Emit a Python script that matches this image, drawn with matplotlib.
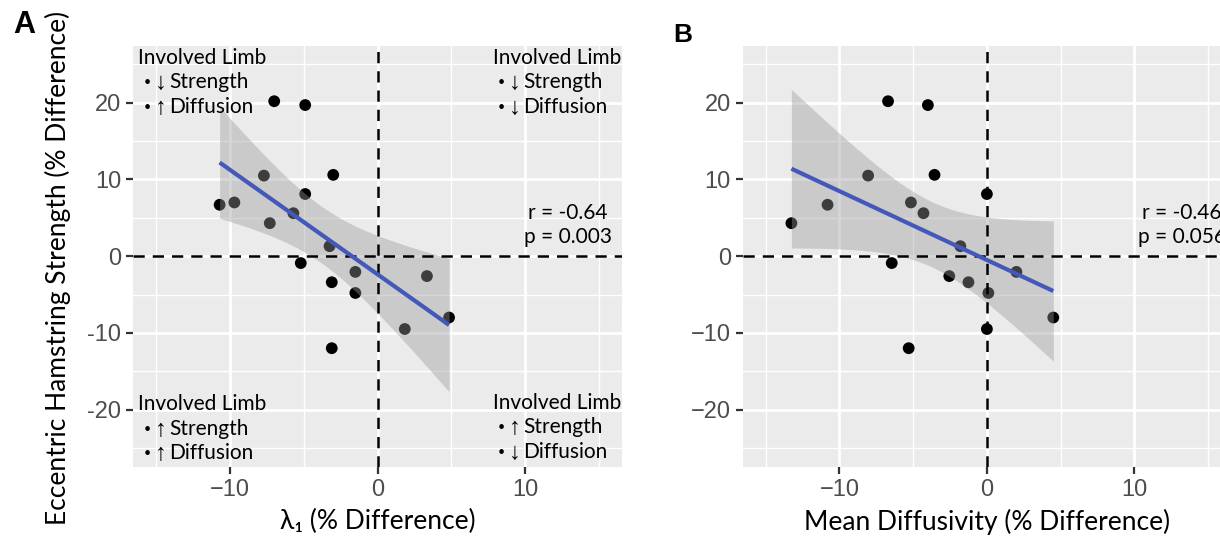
import numpy as np
import matplotlib
matplotlib.use('Agg')
import matplotlib.pyplot as plt

# ---- data ----
strength = [20.2, 19.7, 10.5, 10.6, 6.7, 7.0, 8.1, 5.6, 4.3, 1.3, -0.9, -2.05,
            -2.6, -3.4, -4.8, -9.5, -8.0, -12.0]
lambda1 = [-7.0, -4.9, -7.7, -3.0, -10.7, -9.7, -4.9, -5.7, -7.3, -3.25, -5.2, -1.5,
           3.35, -3.1, -1.5, 1.85, 4.85, -3.1]
md = [-6.7, -4.0, -8.05, -3.55, -10.8, -5.15, 0.0, -4.3, -13.25, -1.8, -6.45, 2.0,
      -2.55, -1.25, 0.1, 0.0, 4.5, -5.3]

xticks = [-10, 0, 10]
xticklabels = ['\u221210', '0', '10']
yticks = [20, 10, 0, -10, -20]
yticklabels_a = ['20', '10', '0', '-10', '-20']
yticklabels_b = ['20', '10', '0', '\u221210', '\u221220']
stats_a = 'r = -0.64\np = 0.003'
stats_b = 'r = -0.46\np = 0.056'
ylabel = 'Eccentric Hamstring Strength (% Difference)'
xlabel_a = '\u03bb\u2081 (% Difference)'
xlabel_b = 'Mean Diffusivity (% Difference)'
quad_header = 'Involved Limb'
quad_words = ['Strength', 'Diffusion']

TXT = ['Lato', 'DejaVu Sans']
TICK = ['Liberation Sans', 'DejaVu Sans']

fig = plt.figure(figsize=(12.2, 5.44), dpi=100)
fig.patch.set_facecolor('white')

ax_a = fig.add_axes([133.3 / 1220, 1 - 466.7 / 544, 488.4 / 1220, 420.7 / 544])
ax_b = fig.add_axes([742.7 / 1220, 1 - 466.7 / 544, 488.4 / 1220, 420.7 / 544])


def style(ax, ylabels):
    ax.set_facecolor('#EBEBEB')
    for s in ax.spines.values():
        s.set_visible(False)
    ax.set_xlim(-16.55, 16.55)
    ax.set_ylim(-27.45, 27.4)
    ax.set_xticks(xticks)
    ax.set_xticklabels(xticklabels)
    ax.set_xticks([-15, -5, 5, 15], minor=True)
    ax.set_yticks(yticks)
    ax.set_yticklabels(ylabels)
    ax.set_yticks([-25, -15, -5, 5, 15, 25], minor=True)
    ax.grid(which='major', color='white', lw=2.0, zorder=0)
    ax.grid(which='minor', color='white', lw=1.0, zorder=0)
    ax.set_axisbelow(True)
    ax.tick_params(which='minor', length=0)
    ax.tick_params(which='major', length=5, width=1.6, color='#333333',
                   labelcolor='#4D4D4D', labelsize=17, pad=3.5)
    for lab in ax.get_xticklabels() + ax.get_yticklabels():
        lab.set_family(TICK)


def scatter_fit(ax, x, y):
    x = np.asarray(x, float)
    y = np.asarray(y, float)
    n = len(x)
    b, a = np.polyfit(x, y, 1)
    xs = np.linspace(x.min(), x.max(), 100)
    yhat = a + b * xs
    resid = y - (a + b * x)
    s = np.sqrt(np.sum(resid ** 2) / (n - 2))
    sxx = np.sum((x - x.mean()) ** 2)
    se = s * np.sqrt(1.0 / n + (xs - x.mean()) ** 2 / sxx)
    t = 2.1199  # t quantile 0.975, df = n - 2 = 16
    ax.scatter(x, y, s=72, color='black', edgecolors='none', zorder=3)
    ax.fill_between(xs, yhat - t * se, yhat + t * se, color='#999999',
                    alpha=0.4, lw=0, zorder=4)
    ax.axhline(0, color='black', lw=1.8, ls=(0, (4.5, 3.2)), zorder=5)
    ax.axvline(0, color='black', lw=1.8, ls=(0, (4.5, 3.2)), zorder=5)
    ax.plot(xs, yhat, color='#4458BA', lw=3.0, zorder=6, solid_capstyle='butt')


style(ax_a, yticklabels_a)
style(ax_b, yticklabels_b)
scatter_fit(ax_a, lambda1, strength)
scatter_fit(ax_b, md, strength)

# quadrant annotations in panel A
ann_fs = 15
def quad(ax, x0, y0, arrows):
    ax.text(x0, y0, quad_header, fontsize=ann_fs, family=TXT, va='center',
            ha='left', zorder=7)
    for i, (arr, word) in enumerate(zip(arrows, quad_words)):
        yy = y0 - 3.2 * (i + 1)
        ax.text(x0 + 0.62, yy, '\u2022', fontsize=9, family=TXT,
                va='center', ha='center', zorder=7)
        ax.text(x0 + 1.52, yy - 0.15, arr, fontsize=17,
                family=['Liberation Sans', 'DejaVu Sans'],
                va='center', ha='center', zorder=7)
        ax.text(x0 + 2.1, yy, word, fontsize=ann_fs, family=TXT,
                va='center', ha='left', zorder=7)

quad(ax_a, -16.2, 25.9, ['\u2193', '\u2191'])
quad(ax_a, 7.8, 25.9, ['\u2193', '\u2193'])
quad(ax_a, -16.2, -19.3, ['\u2191', '\u2191'])
quad(ax_a, 7.8, -19.1, ['\u2191', '\u2193'])

ax_a.text(12.9, 4.05, stats_a, fontsize=ann_fs, family=TXT, ha='center',
          va='center', linespacing=1.2, zorder=7)
ax_b.text(13.2, 4.05, stats_b, fontsize=ann_fs, family=TXT, ha='center',
          va='center', linespacing=1.2, zorder=7)

ax_a.set_xlabel(xlabel_a, fontsize=19, family=TXT, labelpad=6)
ax_b.set_xlabel(xlabel_b, fontsize=19, family=TXT, labelpad=6)
ax_a.set_ylabel(ylabel, fontsize=19, family=TXT)
ax_a.yaxis.set_label_coords((71 - 133.3) / 488.4, (466.7 - 268) / 420.7)

fig.text(24 / 1220, 1 - 25 / 544, 'A', fontsize=22, fontweight='bold',
         family=TICK, ha='center', va='center')
fig.text(683 / 1220, 1 - 35.5 / 544, 'B', fontsize=19, fontweight='bold',
         family=TICK, ha='center', va='center')

fig.savefig('out.png', dpi=100)
